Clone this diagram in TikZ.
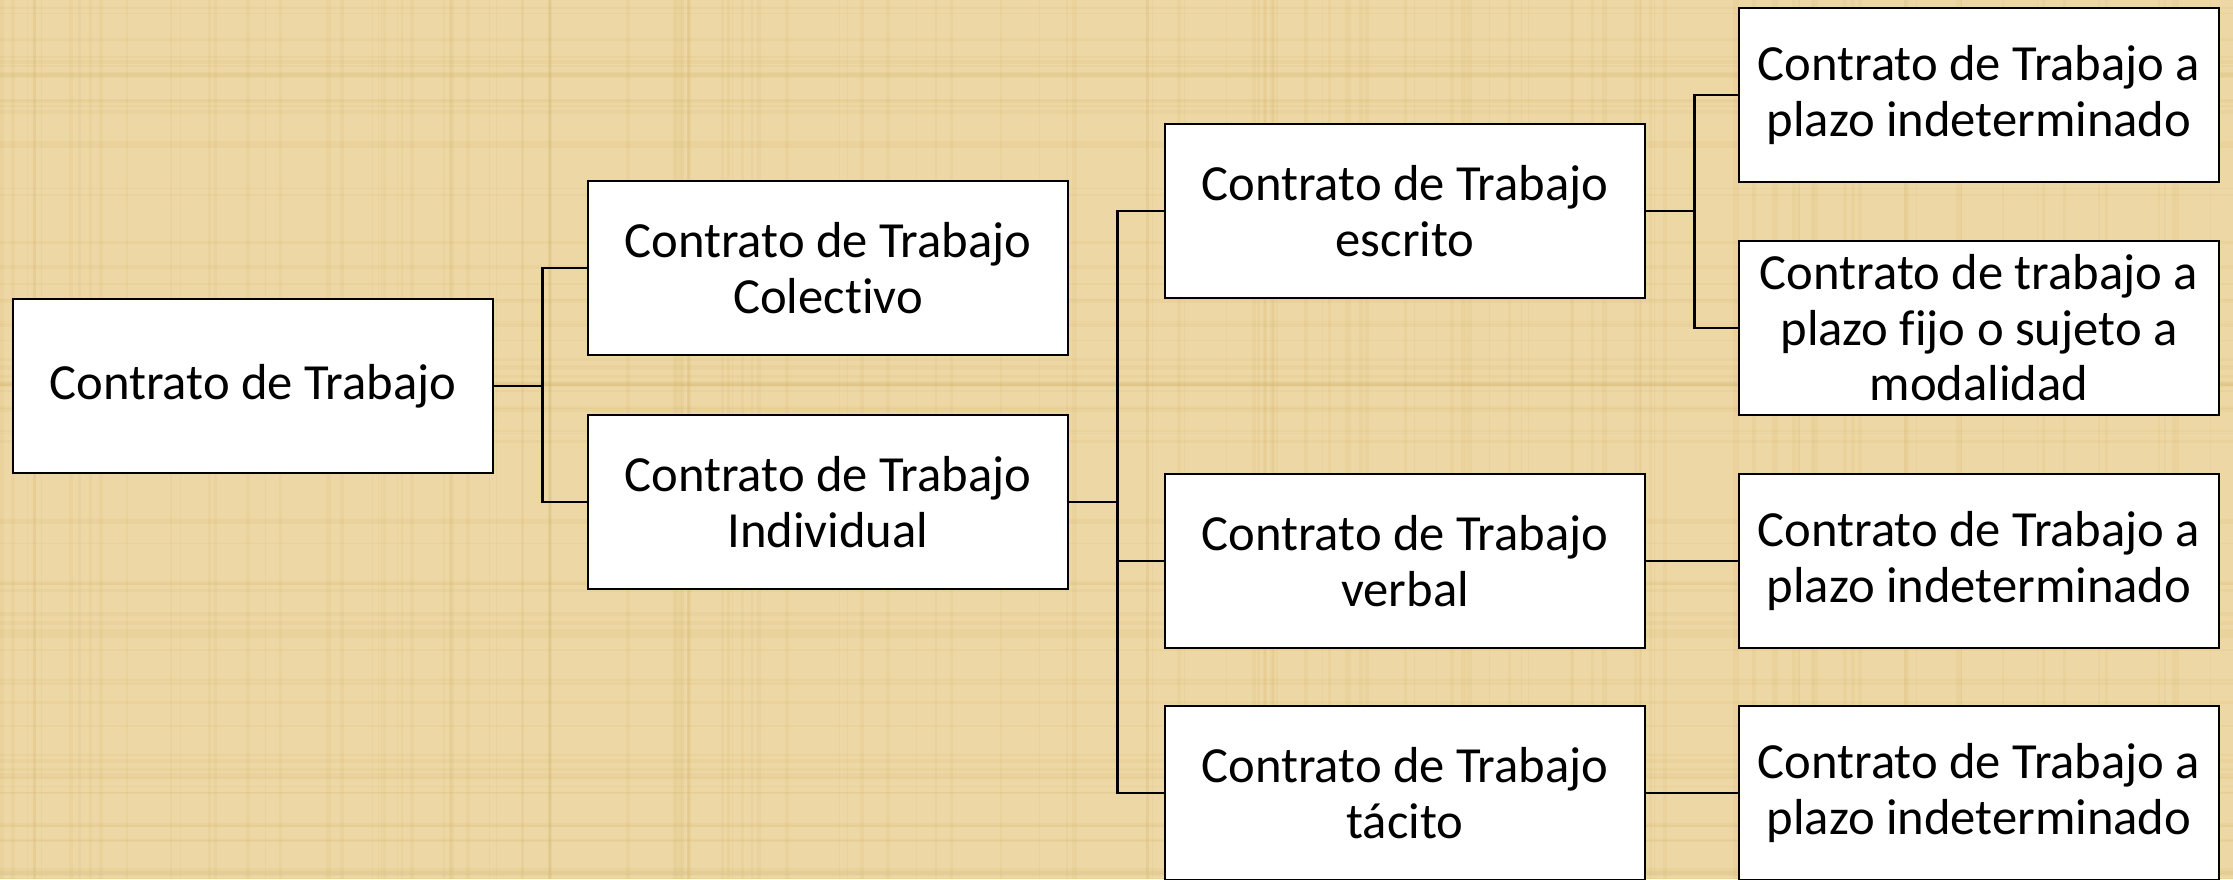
\documentclass[tikz,border=0pt]{standalone}
\usepackage{fontspec}
\setmainfont[Ligatures=CommonOff]{Carlito}
\definecolor{papiro}{RGB}{237,216,165}
\definecolor{fibra}{RGB}{214,184,112}
\tikzset{
  ctbox/.style={draw=black, fill=white, line width=0.8pt, minimum width=4.8cm,
    minimum height=1.74cm, inner sep=0pt, align=center,
    font=\fontsize{14.4}{15.8}\selectfont},
  ctline/.style={black, line width=0.8pt},
  fibre/.style={fibra, opacity=0.16}
}
\begin{document}
\begin{tikzpicture}
        \fill[papiro] (0,0) rectangle (22.33,8.79);
        \useasboundingbox (0,0) rectangle (22.33,8.79);

        % textura del papiro
        \pgfmathsetseed{11}
        \foreach \i in {1,...,140}{
          \pgfmathsetmacro\xx{rnd*22.33}
          \pgfmathsetmacro\ww{0.2+rnd*1.2}
          \draw[fibre, line width=\ww pt] (\xx,0) -- (\xx,8.79);
        }
        \foreach \i in {1,...,70}{
          \pgfmathsetmacro\yy{rnd*8.79}
          \pgfmathsetmacro\ww{0.2+rnd*1.2}
          \draw[fibre, line width=\ww pt] (0,\yy) -- (22.33,\yy);
        }

        \node[ctbox] (raiz) at (2.53,4.93) {Contrato de Trabajo};

        \node[ctbox] (colec) at (8.28,6.11) {Contrato de Trabajo\\Colectivo};
        \node[ctbox] (indiv) at (8.28,3.77) {Contrato de Trabajo\\Individual};

        \node[ctbox] (escrito) at (14.05,6.68) {Contrato de Trabajo\\escrito};
        \node[ctbox] (verbal) at (14.05,3.18) {Contrato de Trabajo\\verbal};
        \node[ctbox] (tacito) at (14.05,0.86) {Contrato de Trabajo\\tácito};

        \node[ctbox] (indet1) at (19.79,7.84) {Contrato de Trabajo a\\plazo indeterminado};
        \node[ctbox] (fijo) at (19.79,5.51) {Contrato de trabajo a\\plazo fijo o sujeto a\\modalidad};
        \node[ctbox] (indet2) at (19.79,3.18) {Contrato de Trabajo a\\plazo indeterminado};
        \node[ctbox] (indet3) at (19.79,0.86) {Contrato de Trabajo a\\plazo indeterminado};

        % conectores
        \draw[ctline] (raiz.east) -- ++(0.48,0) |- (colec.west);
        \draw[ctline] (raiz.east) -- ++(0.48,0) |- (indiv.west);

        \draw[ctline] (indiv.east) -- ++(0.48,0) |- (escrito.west);
        \draw[ctline] (indiv.east) -- ++(0.48,0) |- (verbal.west);
        \draw[ctline] (indiv.east) -- ++(0.48,0) |- (tacito.west);

        \draw[ctline] (escrito.east) -- ++(0.48,0) |- (indet1.west);
        \draw[ctline] (escrito.east) -- ++(0.48,0) |- (fijo.west);

        \draw[ctline] (verbal.east) -- (indet2.west);
        \draw[ctline] (tacito.east) -- (indet3.west);
    \end{tikzpicture}
\end{document}
